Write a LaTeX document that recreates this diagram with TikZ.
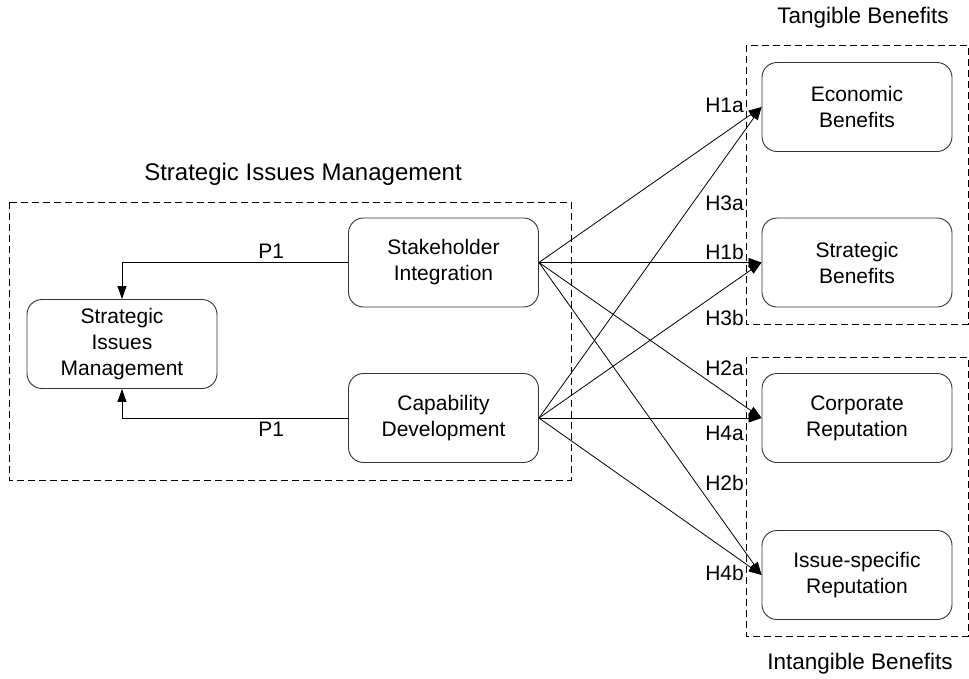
\documentclass[tikz,border=0pt]{standalone}
\usepackage{fontspec}
\setmainfont{Liberation Sans}
\usepackage{tikz}
\usetikzlibrary{arrows.meta}

\begin{document}
\begin{tikzpicture}[x=1pt,y=-1pt,
    font=\fontsize{21}{26}\selectfont,
    box/.style={draw=black!80,line width=0.9pt,rounded corners=15pt,
      minimum width=190pt,minimum height=89pt,align=center,inner sep=2pt},
    group/.style={draw,line width=0.8pt,dash pattern=on 7pt off 4pt},
    title/.style={font=\fontsize{22.5}{27}\selectfont},
    link/.style={line width=0.8pt,-{Triangle[length=13pt,width=9pt]}},
    hlabel/.style={anchor=east,inner sep=0pt}]
  \useasboundingbox (0,0) rectangle (969,678);
  % dashed groups
  \draw[group] (9,202) rectangle (571,480);
  \draw[group] (746,45) rectangle (968,324);
  \draw[group] (746,357) rectangle (968,636);
  \node[title,font=\fontsize{24}{28}\selectfont] (tsim) at (303,174) {Strategic Issues Management};
  \node[title] (ttan) at (863,18) {Tangible Benefits};
  \node[title] (tint) at (860,664) {Intangible Benefits};
  % boxes
  \node[box] (sim) at (122,344) {Strategic\\Issues\\Management};
  \node[box] (stake) at (443.5,262.5) {Stakeholder\\Integration};
  \node[box] (cap) at (443.5,418) {Capability\\Development};
  \node[box] (eco) at (857,107) {Economic\\Benefits};
  \node[box] (stra) at (857,262.5) {Strategic\\Benefits};
  \node[box] (corp) at (857,418) {Corporate\\Reputation};
  \node[box] (iss) at (857,575) {Issue-specific\\Reputation};
  % P1 links
  \draw[link] (stake.west) -| (sim.north) node[pos=0.17,above] {P1};
  \draw[link] (cap.west) -| (sim.south) node[pos=0.17,below] {P1};
  % hypotheses
  \foreach \a in {stake,cap}
    \foreach \b in {eco,stra,corp,iss}
      \draw[link] (\a.east) -- (\b.west);
  \node[hlabel] (h1a) at (744,105) {H1a};
  \node[hlabel] (h3a) at (744,203) {H3a};
  \node[hlabel] (h1b) at (744,252) {H1b};
  \node[hlabel] (h3b) at (744,318) {H3b};
  \node[hlabel] (h2a) at (744,368) {H2a};
  \node[hlabel] (h4a) at (744,433) {H4a};
  \node[hlabel] (h2b) at (744,483) {H2b};
  \node[hlabel] (h4b) at (744,573) {H4b};
\end{tikzpicture}
\end{document}
